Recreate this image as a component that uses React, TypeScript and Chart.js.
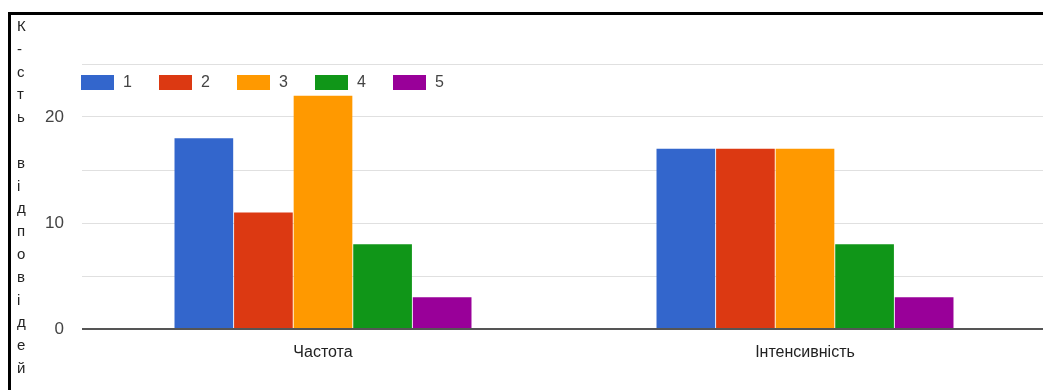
import React, { useEffect, useRef } from "react";
import { Chart, registerables } from "chart.js";

Chart.register(...registerables);

const categories = ["Частота", "Інтенсивність"];
const seriesLabels = ["1", "2", "3", "4", "5"];
const series1 = [18, 17];
const series2 = [11, 17];
const series3 = [22, 17];
const series4 = [8, 8];
const series5 = [3, 3];
const seriesColors = ["#3366cc", "#dc3912", "#ff9900", "#109618", "#990099"];
const yTitle = "К-сть відповідей";
const yTicks = [0, 10, 20];

const FONT = "Arial, 'Liberation Sans', sans-serif";

const legendPlugin = {
  id: "gLegend",
  afterDraw(chart: any) {
    const ctx = chart.ctx;
    const area = chart.chartArea;
    ctx.save();
    ctx.font = `16px ${FONT}`;
    ctx.textBaseline = "middle";
    ctx.textAlign = "left";
    chart.data.datasets.forEach((ds: any, i: number) => {
      const x = area.left - 1 + i * 78;
      const y = area.top + 11;
      ctx.fillStyle = ds.backgroundColor;
      ctx.fillRect(x, y, 33, 15);
      ctx.fillStyle = "#444";
      ctx.fillText(ds.label, x + 42, y + 8);
    });
    ctx.restore();
  },
};

const titlePlugin = {
  id: "vTitle",
  afterDraw(chart: any) {
    const ctx = chart.ctx;
    ctx.save();
    ctx.font = `15px ${FONT}`;
    ctx.fillStyle = "#222";
    ctx.textAlign = "left";
    ctx.textBaseline = "alphabetic";
    yTitle.split("").forEach((ch, i) => {
      ctx.fillText(ch, 6, 16 + i * 22.8);
    });
    ctx.restore();
  },
};

export default function App() {
  const ref = useRef<HTMLCanvasElement | null>(null);
  useEffect(() => {
    if (!ref.current) return;
    const data = [series1, series2, series3, series4, series5];
    const chart = new Chart(ref.current, {
      type: "bar",
      data: {
        labels: categories,
        datasets: data.map((d, i) => ({
          label: seriesLabels[i],
          data: d,
          backgroundColor: seriesColors[i],
          borderWidth: 0,
          categoryPercentage: 0.618,
          barPercentage: 0.985,
        })),
      },
      options: {
        responsive: false,
        animation: false,
        layout: { padding: { top: 49, right: 5, left: 0, bottom: 0 } },
        plugins: {
          legend: { display: false },
          tooltip: { enabled: false },
        },
        scales: {
          x: {
            grid: { display: false },
            border: { display: false },
            ticks: {
              color: "#222",
              font: { family: FONT, size: 16 },
              padding: 6,
            },
            afterFit(scale: any) {
              scale.height = 61;
            },
          },
          y: {
            min: 0,
            max: 25,
            border: { display: false },
            grid: {
              drawTicks: false,
              color: (c: any) => (c.tick && c.tick.value === 0 ? "#555" : "#e0e0e0"),
              lineWidth: (c: any) => (c.tick && c.tick.value === 0 ? 2 : 1),
            },
            ticks: {
              stepSize: 5,
              padding: 18,
              color: "#444",
              font: { family: FONT, size: 17 },
              callback: (v: any) => (yTicks.includes(Number(v)) ? String(v) : ""),
            },
            afterFit(scale: any) {
              scale.width = 71;
            },
          },
        },
      },
      plugins: [legendPlugin, titlePlugin],
    });
    return () => chart.destroy();
  }, []);

  return (
    <div
      style={{
        position: "fixed",
        left: 8,
        top: 12,
        width: 1035,
        height: 378,
        overflow: "hidden",
        borderTop: "3px solid #000",
        borderLeft: "3px solid #000",
        boxSizing: "border-box",
        background: "#fff",
      }}
    >
      <canvas
        ref={ref}
        width={1040}
        height={375}
        style={{ position: "absolute", left: 0, top: 0, width: 1040, height: 375 }}
      />
    </div>
  );
}
